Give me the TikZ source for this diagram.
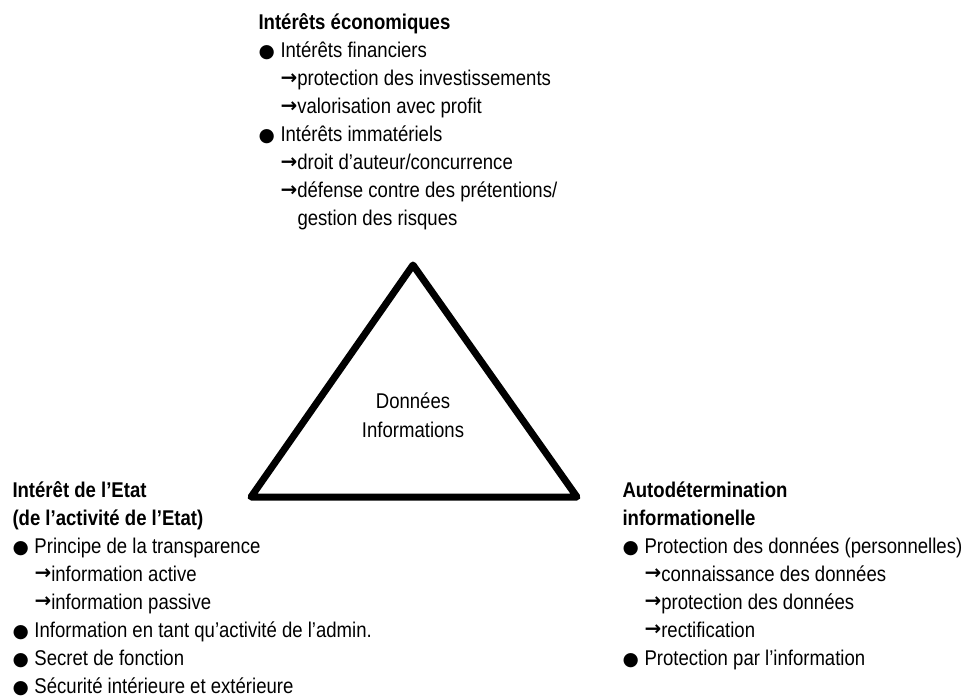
\documentclass[tikz,border=0pt]{standalone}
\usepackage{fontspec}
\setmainfont{Liberation Sans}[FakeStretch=0.87]
\newfontfamily\symfont{DejaVu Sans}
\newcommand{\bul}{\makebox[16.5pt][l]{{\symfont\fontsize{14}{19}\selectfont ●}}}
\newcommand{\arr}{\raisebox{1.2pt}{\symfont\bfseries\fontsize{15}{19}\selectfont →}}

\tikzset{every picture/.style={line width=0.75pt}}
\tikzset{
  txt/.style={anchor=base west, inner sep=0pt, font=\fontsize{16}{19}\selectfont},
  hd/.style={txt, font=\fontsize{16}{19}\selectfont\bfseries},
  ctr/.style={anchor=base, inner sep=0pt, font=\fontsize{16}{19}\selectfont},
  tri/.style={line width=5.25pt, line join=round}
}

\begin{document}
\begin{tikzpicture}[x=0.75pt,y=0.75pt,yscale=-1,xscale=1]
	\useasboundingbox (0,0) rectangle (971,698);
	
	%Shape: Triangle
	\draw [tri] (413,265) -- (577,497) -- (251,497) -- cycle ;
	
	% Text Node
	\node [ctr] (don) at (413,409) {Données};
	% Text Node
	\node [ctr] (inf) at (413,437) {Informations};
	
	% Text Node
	\node [hd] (ecoT) at (258,30) {Intérêts économiques};
	% Text Node
	\node [txt] (eco1) at (258,58) {\bul Intérêts financiers};
	% Text Node
	\node [txt] (eco2) at (280,86) {\arr protection des investissements};
	% Text Node
	\node [txt] (eco3) at (280,114) {\arr valorisation avec profit};
	% Text Node
	\node [txt] (eco4) at (258,142) {\bul Intérêts immatériels};
	% Text Node
	\node [txt] (eco5) at (280,170) {\arr droit d’auteur/concurrence};
	% Text Node
	\node [txt] (eco6) at (280,198) {\arr défense contre des prétentions/};
	% Text Node
	\node [txt] (eco7) at (297,226) {gestion des risques};
	
	% Text Node
	\node [hd] (etaT) at (12,497) {Intérêt de l’Etat};
	% Text Node
	\node [hd] (etaU) at (12,525) {(de l’activité de l’Etat)};
	% Text Node
	\node [txt] (eta1) at (12,553) {\bul Principe de la transparence};
	% Text Node
	\node [txt] (eta2) at (34,581) {\arr information active};
	% Text Node
	\node [txt] (eta3) at (34,609) {\arr information passive};
	% Text Node
	\node [txt] (eta4) at (12,637) {\bul Information en tant qu’activité de l’admin.};
	% Text Node
	\node [txt] (eta5) at (12,665) {\bul Secret de fonction};
	% Text Node
	\node [txt] (eta6) at (12,693) {\bul Sécurité intérieure et extérieure};
	
	% Text Node
	\node [hd] (autT) at (622,497) {Autodétermination};
	% Text Node
	\node [hd] (autU) at (622,525) {informationelle};
	% Text Node
	\node [txt] (aut1) at (622,553) {\bul Protection des données (personnelles)};
	% Text Node
	\node [txt] (aut2) at (644,581) {\arr connaissance des données};
	% Text Node
	\node [txt] (aut3) at (644,609) {\arr protection des données};
	% Text Node
	\node [txt] (aut4) at (644,637) {\arr rectification};
	% Text Node
	\node [txt] (aut5) at (622,665) {\bul Protection par l’information};
	
\end{tikzpicture}
\end{document}
